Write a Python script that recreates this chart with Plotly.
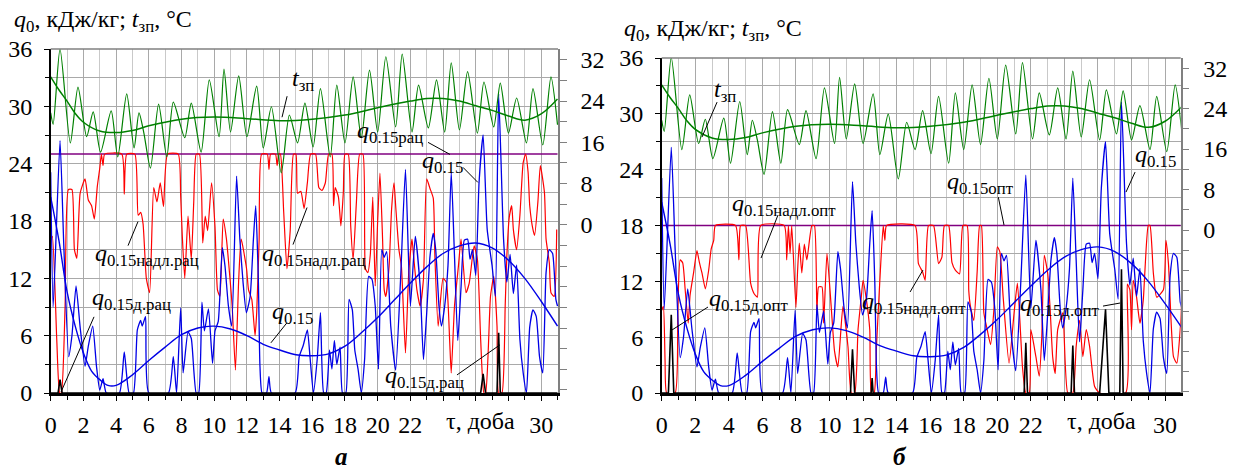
import plotly.graph_objects as go

# ---------------- data ----------------
# outdoor air temperature t_зп, °C (right axis)
t_temp = [0.0, 0.15, 0.57, 1.2, 1.67, 2.2, 2.6, 3.05, 3.7, 4.1, 4.65, 5.1, 5.4, 5.7, 6.1, 6.6,
          7.1, 7.5, 8.2, 8.6, 9.2, 9.7, 10.3, 10.6, 11.0, 11.5, 12.0, 12.6, 13.0, 13.5, 14.1,
          14.6, 15.1, 15.55, 16.05, 16.5, 17.1, 17.5, 18.0, 18.5, 19.0, 19.5, 20.0, 20.5, 21.1,
          21.5, 22.1, 22.5, 23.1, 23.6, 24.1, 24.5, 25.0, 25.5, 26.1, 26.5, 27.1, 27.5, 28.0,
          28.5, 29.1, 29.5, 30.1, 30.6, 31.0]
temp_zp = [21.7, 19.5, 34.1, 15.9, 26.7, 17.1, 21.9, 14.1, 22.1, 13.2, 25.4, 14.9, 21.7, 17.8,
           11.0, 23.4, 13.2, 23.8, 16.9, 23.6, 14.1, 28.1, 17.1, 30.2, 18.0, 28.9, 17.1, 26.9,
           14.9, 22.9, 10.1, 21.3, 15.9, 23.6, 15.1, 26.4, 13.2, 27.1, 15.9, 28.7, 16.9, 30.0,
           18.0, 32.6, 19.0, 33.1, 18.0, 27.1, 18.8, 28.1, 18.0, 31.4, 18.4, 29.7, 17.8, 27.7,
           19.0, 27.5, 17.8, 24.6, 15.9, 26.4, 15.5, 28.7, 19.4]
t_temp_trend = [0, 0.5, 1, 1.5, 2, 3, 4, 5, 6, 8, 10, 12, 14, 16, 18, 20, 22, 23, 24, 25, 26,
                27, 28, 29, 30, 31]
temp_zp_trend = [28.7, 26.2, 24.0, 21.6, 19.9, 18.2, 17.9, 18.3, 19.2, 20.5, 20.9, 20.6, 20.2,
                 20.5, 21.3, 22.7, 24.0, 24.5, 24.5, 24.0, 23.1, 22.2, 21.1, 20.3, 21.5, 24.4]

# cooling load q0.15, kJ/kg (left axis) - same in both panels
t_q = [0.0, 0.15, 0.57, 0.8, 1.1, 1.3, 1.55, 1.8, 2.1, 2.3, 2.57, 2.8, 3.0, 3.2, 3.4, 4.2, 4.5,
       4.8, 5.06, 5.3, 5.5, 5.6, 5.8, 6.0, 7.2, 7.5, 7.7, 7.95, 8.1, 8.4, 8.6, 8.9, 9.05, 9.25,
       9.4, 9.65, 9.9, 10.05, 10.25, 10.5, 10.66, 10.87, 11.07, 11.37, 11.57, 11.77, 11.97,
       12.2, 12.4, 12.54, 12.7, 12.8, 12.93, 13.2, 13.35, 13.5, 14.95, 15.2, 15.45, 15.7,
       15.86, 16.07, 16.3, 16.5, 16.7, 16.85, 17.05, 17.2, 17.35, 17.5, 17.7, 17.85, 18.05,
       18.25, 18.45, 18.6, 18.8, 19.0, 19.2, 19.45, 19.65, 19.85, 20.05, 20.25, 20.4, 20.55,
       20.8, 21.1, 21.4, 21.7, 22.0, 22.3, 22.6, 22.8, 23.0, 23.2, 23.4, 23.55, 23.75, 23.9,
       24.1, 24.3, 24.5, 24.7, 24.9, 25.1, 25.3, 25.5, 25.65, 25.8, 26.0, 26.2, 26.45, 26.7,
       27.0, 27.2, 27.4, 27.7, 27.9, 28.1, 28.3, 28.5, 28.7, 28.9, 29.1, 29.3, 29.5, 29.7,
       29.9, 30.1, 30.3, 30.5, 30.7, 30.9, 31.0]
q015 = [23.1, 9.0, 26.4, 15.5, 3.8, 6.0, 11.2, 6.9, 2.8, 4.9, 7.0, 2.8, 0.3, 1.5, 0.0, 0.0, 4.3,
        0.0, 0.0, 6.6, 7.6, 7.0, 8.0, 0.0, 0.0, 3.8, 0.0, 8.9, 2.1, 6.4, 5.7, 0.0, 0.0, 9.5,
        6.5, 8.8, 3.1, 6.5, 7.5, 15.2, 13.3, 9.1, 7.0, 22.7, 16.1, 11.5, 8.4, 10.1, 16.1, 19.6,
        11.9, 2.8, 0.0, 0.0, 1.7, 0.0, 0.0, 3.8, 5.0, 6.6, 3.8, 0.0, 3.5, 8.4, 0.0, 0.0, 4.5,
        2.5, 5.5, 3.0, 4.8, 0.0, 0.0, 9.8, 8.7, 4.5, 2.5, 0.0, 3.5, 12.2, 11.9, 9.1, 2.5, 15.0,
        14.2, 14.8, 7.0, 2.4, 11.9, 23.4, 9.1, 16.4, 11.1, 3.5, 8.4, 14.3, 16.7, 15.0, 9.1, 7.0,
        9.1, 13.3, 23.1, 14.3, 5.5, 11.1, 16.0, 16.1, 14.0, 15.0, 12.3, 22.0, 27.0, 17.1, 13.3,
        10.1, 31.3, 16.1, 11.6, 14.5, 10.4, 13.4, 5.6, 2.1, 0.0, 6.9, 8.7, 8.0, 3.8, 2.1, 12.6,
        15.0, 14.6, 9.8, 9.1]
t_q_trend = [0, 0.5, 1, 1.5, 2, 2.5, 3, 3.5, 4, 5, 6, 7, 8, 9, 10, 11, 12, 13, 14, 15, 16, 17,
             18, 19, 20, 21, 22, 23, 24, 25, 26, 27, 28, 29, 30, 31]
q015_trend = [20.5, 16.0, 10.6, 7.0, 4.2, 2.3, 1.4, 0.8, 0.8, 1.9, 3.4, 4.8, 6.1, 6.8, 7.0, 6.7,
              6.0, 5.1, 4.5, 4.0, 3.9, 4.1, 4.9, 6.3, 7.9, 9.7, 11.5, 13.2, 14.6, 15.4, 15.7,
              15.2, 13.9, 12.0, 9.6, 7.0]

# panel a: rational capacity
t_limits = [0, 31]
q_rac = [25, 25]
t_nadl_rac = [0.0, 0.1, 0.37, 0.55, 0.65, 0.88, 1.08, 1.3, 1.45, 1.6, 1.8, 2.1, 2.3, 2.5, 2.67,
              2.85, 3.0, 3.1, 3.2, 3.3, 4.35, 4.5, 4.65, 5.15, 5.35, 5.5, 5.65, 5.85, 6.05, 6.3,
              6.5, 6.7, 6.9, 7.15, 7.8, 7.95, 8.05, 8.2, 8.4, 8.6, 8.75, 8.9, 9.1, 9.3, 9.45,
              9.6, 9.84, 10.05, 10.2, 10.35, 10.55, 10.75, 10.97, 11.1, 11.3, 11.5, 11.65, 11.98,
              12.1, 12.3, 12.5, 12.6, 12.75, 12.9, 13.25, 13.35, 13.45, 13.75, 13.85, 13.95,
              14.05, 14.25, 14.45, 14.65, 14.85, 15.0, 15.1, 15.3, 15.5, 15.7, 15.9, 16.2, 16.4,
              16.6, 16.8, 17.0, 17.2, 17.3, 17.4, 17.6, 17.75, 17.9, 18.0, 18.2, 18.35, 18.5,
              18.7, 18.9, 19.1, 19.25, 19.4, 19.55, 19.7, 19.85, 20.0, 20.14, 20.3, 20.4, 20.5,
              20.7, 20.85, 21.0, 21.1, 21.3, 21.45, 21.7, 21.9, 22.1, 22.2, 22.4, 22.6, 22.8,
              23.0, 23.2, 23.4, 23.5, 23.7, 24.0, 24.2, 24.4, 24.5, 24.7, 24.94, 25.1, 25.4,
              25.6, 25.9, 26.1, 26.3, 26.5, 26.6, 26.9, 27.1, 27.3, 27.4, 27.6, 27.8, 27.9,
              28.05, 28.2, 28.3, 28.5, 28.7, 28.9, 29.05, 29.2, 29.3, 29.5, 29.6, 29.8, 29.95,
              30.2, 30.3, 30.5, 30.6, 30.8, 30.95]
q_nadl_rac = [16.1, 16.4, 5.6, 0.0, 0.0, 9.1, 21.3, 21.3, 15.0, 14.1, 20.9, 22.4, 20.2, 19.6,
              18.2, 21.6, 23.5, 25.0, 23.8, 25.0, 25.0, 20.8, 25.0, 25.0, 18.6, 18.9, 17.7, 12.0,
              10.5, 21.5, 20.0, 22.0, 19.5, 25.0, 25.0, 20.6, 16.4, 12.0, 18.5, 14.0, 20.0, 25.0,
              25.0, 15.7, 18.5, 17.0, 22.0, 17.4, 10.8, 10.1, 18.2, 16.1, 11.9, 9.1, 2.4, 11.9,
              16.1, 13.0, 10.8, 9.8, 6.0, 8.4, 16.1, 25.0, 25.0, 23.4, 25.0, 25.0, 23.8, 25.0,
              25.0, 19.0, 13.0, 17.0, 25.0, 25.0, 20.9, 21.1, 19.3, 22.0, 25.0, 25.0, 21.5, 21.2,
              22.0, 25.0, 25.0, 19.6, 21.5, 20.5, 17.5, 21.0, 25.0, 25.0, 17.5, 14.0, 20.0, 25.0,
              25.0, 13.0, 12.6, 14.5, 20.5, 11.2, 18.0, 23.0, 16.1, 10.8, 10.1, 13.3, 19.2, 22.0,
              19.6, 15.0, 13.3, 4.2, 12.6, 16.1, 14.3, 10.8, 9.1, 11.9, 22.4, 21.4, 20.4, 14.3,
              7.0, 12.0, 11.6, 5.6, 2.1, 9.1, 13.3, 16.1, 10.5, 11.5, 15.4, 14.0, 5.6, 0.0, 0.0,
              10.1, 12.2, 7.0, 0.0, 0.0, 9.1, 14.3, 18.4, 19.6, 17.1, 15.0, 18.6, 24.1, 25.0,
              23.1, 19.6, 17.1, 16.5, 20.0, 23.8, 21.0, 16.1, 13.6, 10.5, 10.1, 17.1]
t_d_rac = [0.0, 0.45, 0.57, 0.7, 26.3, 26.45, 26.6, 27.3, 27.4, 27.5, 31.0]
q_d_rac = [0.0, 0.0, 1.4, 0.0, 0.0, 2.0, 0.0, 0.0, 6.3, 0.0, 0.0]

# panel б: optimal capacity
q_opt = [18, 18]
t_nadl_opt = [0.0, 0.1, 0.2, 0.3, 0.8, 0.96, 1.1, 1.25, 1.4, 1.58, 1.69, 1.9, 2.1, 2.25, 2.4,
              2.6, 2.8, 2.95, 3.1, 3.2, 4.4, 4.6, 4.7, 5.0, 5.3, 5.5, 5.7, 5.9, 7.3, 7.45, 7.55,
              7.65, 7.75, 8.0, 8.1, 8.2, 8.35, 8.5, 8.65, 8.95, 9.1, 9.25, 9.35, 9.55, 9.65,
              9.85, 10.1, 10.3, 10.5, 10.8, 11.1, 11.3, 11.5, 11.7, 11.9, 12.0, 12.2, 12.4, 12.5,
              12.66, 12.8, 13.0, 13.2, 13.3, 13.4, 15.1, 15.3, 15.55, 15.7, 15.9, 16.2, 16.5,
              16.7, 16.85, 17.1, 17.3, 17.5, 17.75, 17.95, 18.2, 18.3, 18.4, 18.6, 18.8, 18.95,
              19.05, 19.2, 19.4, 19.6, 19.8, 20.0, 20.15, 20.35, 20.7, 21.0, 21.2, 21.5, 21.7,
              21.9, 22.0, 22.3, 22.5, 22.65, 22.8, 23.0, 23.15, 23.3, 23.45, 23.6, 23.9, 24.2,
              24.5, 24.7, 24.9, 25.1, 25.3, 25.5, 25.8, 26.1, 27.65, 27.75, 27.9, 28.0, 28.1,
              28.3, 28.5, 28.7, 28.8, 29.0, 29.1, 29.3, 29.5, 29.9, 30.05, 30.2, 30.5, 30.7,
              30.9, 31.0]
q_nadl_opt = [8.9, 9.3, 3.5, 0.0, 0.0, 8.9, 14.3, 14.0, 11.1, 7.5, 10.5, 12.9, 15.3, 14.0, 12.9,
              11.2, 13.2, 15.5, 16.4, 18.0, 18.0, 14.3, 18.0, 18.0, 11.8, 10.7, 10.3, 18.0, 18.0,
              14.3, 18.0, 15.0, 18.0, 9.2, 13.2, 16.1, 12.9, 16.0, 14.3, 18.0, 18.0, 8.6, 11.4,
              11.4, 7.5, 15.0, 9.3, 4.5, 2.8, 9.3, 5.0, 0.0, 0.0, 6.8, 10.4, 12.1, 10.0, 6.8, 0.0,
              0.0, 5.0, 12.1, 18.0, 16.4, 18.0, 18.0, 13.9, 13.0, 12.1, 18.0, 18.0, 13.9, 14.6,
              18.0, 18.0, 14.0, 13.2, 12.8, 18.0, 18.0, 11.0, 9.3, 7.8, 13.0, 18.0, 18.0, 8.6,
              6.8, 5.2, 9.0, 15.7, 15.2, 10.3, 3.2, 8.6, 11.8, 2.8, 0.0, 0.0, 6.8, 3.9, 1.8, 6.0,
              14.8, 12.9, 9.0, 3.9, 2.1, 6.8, 8.6, 0.0, 0.0, 5.0, 7.8, 3.9, 6.8, 5.0, 0.7, 0.0,
              0.0, 11.7, 11.1, 6.8, 12.1, 10.3, 7.5, 10.0, 13.2, 18.0, 18.0, 12.9, 10.3, 11.1,
              16.4, 13.9, 3.9, 3.2, 6.8, 10.3]
t_d_opt = [0.0, 0.4, 0.57, 0.72, 11.25, 11.37, 11.5, 12.48, 12.54, 12.6, 21.6, 21.7, 21.8, 24.4,
           24.5, 24.6, 26.1, 26.45, 26.65, 27.3, 27.4, 27.5, 31.0]
q_d_opt = [0.0, 0.0, 8.4, 0.0, 0.0, 4.7, 0.0, 0.0, 1.6, 0.0, 0.0, 5.4, 0.0, 0.0, 5.1, 0.0, 0.0,
           9.0, 0.0, 0.0, 13.3, 0.0, 0.0]

x_tick_vals = [0, 2, 4, 6, 8, 10, 12, 14, 16, 18, 20, 22, 24, 26, 28, 30]
x_tick_text = ["0", "2", "4", "6", "8", "10", "12", "14", "16", "18", "20", "22", "", "", "", "30"]
q_tick_vals = [0, 6, 12, 18, 24, 30, 36]
t_tick_vals = [0, 8, 16, 24, 32]

# ---------------- styling ----------------
FONT = "Liberation Serif, Times New Roman, serif"
GREEN = "#008000"
BLUE = "#0000e6"
RED = "#ff0000"
PURPLE = "#800080"
GRID_MAJ = "#a9a9a9"
GRID_MIN = "#c9c9c9"
BORDER = "#808080"

fig = go.Figure()

panels = [
    dict(x="x", y="y", y2="y2", lim=q_rac, nadl_t=t_nadl_rac, nadl=q_nadl_rac,
         d_t=t_d_rac, d=q_d_rac),
    dict(x="x2", y="y3", y2="y4", lim=q_opt, nadl_t=t_nadl_opt, nadl=q_nadl_opt,
         d_t=t_d_opt, d=q_d_opt),
]

for p in panels:
    fig.add_trace(go.Scatter(x=t_limits, y=p["lim"], mode="lines", xaxis=p["x"], yaxis=p["y"],
                             line=dict(color=PURPLE, width=1.5)))
    fig.add_trace(go.Scatter(x=p["nadl_t"], y=p["nadl"], mode="lines", xaxis=p["x"], yaxis=p["y"],
                             line=dict(color=RED, width=1.2, shape="spline", smoothing=0.5)))
    fig.add_trace(go.Scatter(x=t_q, y=q015, mode="lines", xaxis=p["x"], yaxis=p["y"],
                             line=dict(color=BLUE, width=1.3, shape="spline", smoothing=0.5)))
    fig.add_trace(go.Scatter(x=t_q_trend, y=q015_trend, mode="lines", xaxis=p["x"], yaxis=p["y"],
                             line=dict(color=BLUE, width=1.4, shape="spline")))
    fig.add_trace(go.Scatter(x=p["d_t"], y=p["d"], mode="lines", xaxis=p["x"], yaxis=p["y"],
                             line=dict(color="black", width=1.6)))
    fig.add_trace(go.Scatter(x=t_temp, y=temp_zp, mode="lines", xaxis=p["x"], yaxis=p["y2"],
                             line=dict(color=GREEN, width=1.2, shape="spline", smoothing=0.7)))
    fig.add_trace(go.Scatter(x=t_temp_trend, y=temp_zp_trend, mode="lines", xaxis=p["x"],
                             yaxis=p["y2"], line=dict(color=GREEN, width=1.5, shape="spline")))

W, H = 1233, 471
xa_dom = [50.7 / W, 558 / W]
xb_dom = [661.7 / W, 1180.7 / W]
ya_dom = [(H - 393) / H, (H - 49) / H]
yb_dom = [(H - 393) / H, (H - 58) / H]

tick_font = dict(family=FONT, size=24, color="black")


def xaxis(dom, rng, anchor):
    return dict(domain=dom, range=rng, anchor=anchor, tickvals=x_tick_vals, ticktext=x_tick_text,
                ticks="outside", ticklen=5, tickwidth=1, tickcolor="black", showline=True,
                linecolor="black", linewidth=2.5, showgrid=True, gridcolor=GRID_MAJ, gridwidth=1,
                zeroline=False, tickfont=tick_font, ticklabelstandoff=3, automargin=False,
                minor=dict(dtick=1, tick0=0, ticks="outside", ticklen=4, tickcolor="black",
                           showgrid=True, gridcolor=GRID_MIN, gridwidth=1))


def yleft(dom, anchor):
    return dict(domain=dom, range=[0, 36], anchor=anchor, tickvals=q_tick_vals, ticks="outside",
                ticklen=5, tickcolor="black", showline=True, linecolor="black", linewidth=1.5,
                showgrid=True, gridcolor=GRID_MAJ, zeroline=False, tickfont=tick_font,
                ticklabelstandoff=7, automargin=False,
                minor=dict(dtick=3, tick0=0, ticks="outside", ticklen=4, tickcolor="black",
                           showgrid=True, gridcolor=GRID_MAJ))


def yright(rng, overlay, anchor):
    return dict(range=rng, overlaying=overlay, anchor=anchor, side="right", tickvals=t_tick_vals,
                ticks="outside", ticklen=7, tickcolor=BORDER, showline=True, linecolor=BORDER,
                linewidth=1.5, showgrid=False, zeroline=False, tickfont=tick_font,
                ticklabelstandoff=9, automargin=False,
                minor=dict(dtick=4, tick0=0, ticks="outside", ticklen=7, tickcolor=BORDER,
                           showgrid=False))


fig.update_layout(
    width=W, height=H, margin=dict(l=0, r=0, t=0, b=0, pad=0, autoexpand=False),
    showlegend=False,
    plot_bgcolor="white", paper_bgcolor="white", font=dict(family=FONT, size=22, color="black"),
    xaxis=xaxis(xa_dom, [0, 31.03], "y"),
    xaxis2=xaxis(xb_dom, [0, 30.93], "y3"),
    yaxis=yleft(ya_dom, "x"),
    yaxis2=yright([-32.6, 34.1], "y", "x"),
    yaxis3=yleft(yb_dom, "x2"),
    yaxis4=yright([-32.2, 34.0], "y3", "x2"),
)

shapes = []
# top border of both plot areas
for xr, yr in (("x", "y"), ("x2", "y3")):
    shapes.append(dict(type="line", xref=xr + " domain", yref=yr + " domain", x0=0, x1=1, y0=1,
                       y1=1, line=dict(color=BORDER, width=1.5)))

# leader lines (label -> curve)
leaders_a = [(14.46, 31.06, 14.15, 28.86), (23.08, 26.23, 24.42, 24.97),
             (25.22, 23.61, 26.13, 22.04), (4.73, 15.42, 5.34, 17.94),
             (14.82, 15.53, 15.68, 19.41), (2.65, 7.97, 0.63, 0.10),
             (14.45, 7.35, 13.47, 5.25), (24.85, 1.89, 27.48, 5.04)]
leaders_b = [(3.30, 31.26, 2.40, 27.50), (6.93, 19.12, 5.92, 14.50),
             (20.06, 21.05, 20.40, 18.05), (28.21, 23.74, 27.67, 21.59),
             (2.76, 9.24, 0.61, 6.77), (14.80, 10.85, 15.57, 13.21),
             (26.30, 9.34, 27.32, 9.67)]
for xr, yr, lst in (("x", "y", leaders_a), ("x2", "y3", leaders_b)):
    for x0, y0, x1, y1 in lst:
        shapes.append(dict(type="line", xref=xr, yref=yr, x0=x0, y0=y0, x1=x1, y1=y1,
                           line=dict(color="black", width=1)))
fig.update_layout(shapes=shapes)


def q_lbl(sub):
    return "<i>q</i><sub>" + sub + "</sub>"


t_lbl = "<i>t</i><sub>зп</sub>"
labels_a = [(t_lbl, 14.64, 32.8), (q_lbl("0.15рац"), 18.61, 27.3), (q_lbl("0.15"), 22.59, 24.2),
            (q_lbl("0.15надл.рац"), 2.59, 14.4), (q_lbl("0.15надл.рац"), 12.8, 14.4),
            (q_lbl("0.15д.рац"), 2.40, 9.86), (q_lbl("0.15"), 13.41, 8.4),
            (q_lbl("0.15д.рац"), 20.32, 1.68)]
labels_b = [(t_lbl, 3.0, 32.4), (q_lbl("0.15надл.опт"), 4.07, 20.2),
            (q_lbl("0.15опт"), 16.88, 22.56), (q_lbl("0.15"), 28.09, 25.46),
            (q_lbl("0.15д.опт"), 2.70, 9.99), (q_lbl("0.15надл.опт"), 11.82, 9.67),
            (q_lbl("0.15д.опт"), 21.23, 9.45)]
ann = []
for xr, yr, lst in (("x", "y", labels_a), ("x2", "y3", labels_b)):
    for txt, x, y in lst:
        ann.append(dict(text=txt, x=x, y=y, xref=xr, yref=yr, xanchor="left", yanchor="middle",
                        showarrow=False, font=dict(family=FONT, size=24, color="black")))

title = "<i>q</i><sub>0</sub>, кДж/кг; <i>t</i><sub>зп</sub>, °С"
ann.append(dict(text=title, x=12 / W, y=1 - 21 / H, xref="paper", yref="paper", xanchor="left",
                yanchor="middle", showarrow=False, font=dict(family=FONT, size=24)))
ann.append(dict(text=title, x=622 / W, y=1 - 30 / H, xref="paper", yref="paper", xanchor="left",
                yanchor="middle", showarrow=False, font=dict(family=FONT, size=24)))
for xr, xv in (("x", 26.26), ("x2", 26.18)):
    ann.append(dict(text="τ, доба", x=xv, y=1 - 421 / H, xref=xr, yref="paper", xanchor="center",
                    yanchor="middle", showarrow=False, font=dict(family=FONT, size=24)))
ann.append(dict(text="<b><i>а</i></b>", x=341 / W, y=1 - 456 / H, xref="paper", yref="paper",
                xanchor="center", yanchor="middle", showarrow=False,
                font=dict(family=FONT, size=25)))
ann.append(dict(text="<b><i>б</i></b>", x=900 / W, y=1 - 456 / H, xref="paper", yref="paper",
                xanchor="center", yanchor="middle", showarrow=False,
                font=dict(family=FONT, size=25)))
fig.update_layout(annotations=ann)

fig.write_html("out.html")
